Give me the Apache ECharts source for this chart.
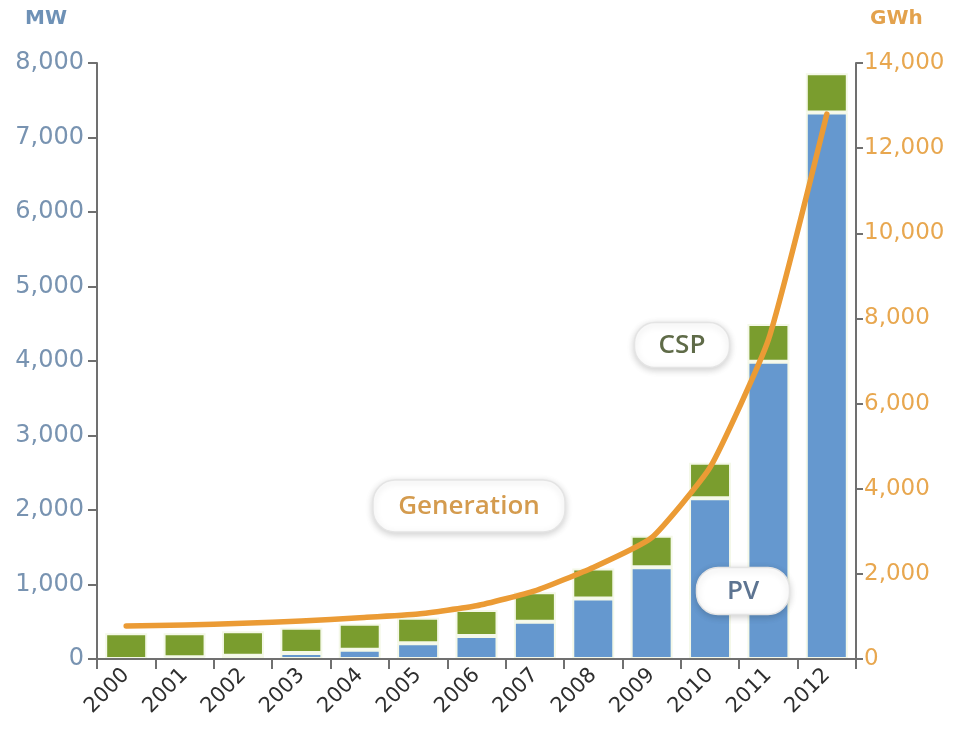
<!DOCTYPE html>
<html>
<head>
<meta charset="utf-8">
<script src="https://cdn.jsdelivr.net/npm/echarts@6/dist/echarts.min.js"></script>
<style>
  html, body { margin: 0; padding: 0; background: #ffffff; }
  #chart { width: 957px; height: 733px; }
</style>
</head>
<body>
<div id="chart"></div>
<script>
// ---- data ----
const years = ['2000','2001','2002','2003','2004','2005','2006','2007','2008','2009','2010','2011','2012'];
const pvMW  = [0, 25, 45, 80, 125, 210, 310, 500, 812, 1230, 2157, 3991, 7335];
const cspMW = [345, 320, 327, 341, 349, 344, 348, 395, 403, 425, 478, 504, 527];
const generationGWh = [775, 800, 838, 893, 970, 1057, 1250, 1600, 2150, 2850, 4500, 7500, 12800];
const mwTicks = { min: 0, max: 8000, interval: 1000 };
const gwhTicks = { min: 0, max: 14000, interval: 2000 };

const fmt = v => v.toLocaleString('en-US');
const axisGray = '#707070';

function labelBox(cx, cy, w, h, text, color) {
  return {
    type: 'group', x: cx, y: cy, z: 100,
    children: [
      { type: 'rect', z: 100,
        shape: { x: -w / 2, y: -h / 2, width: w, height: h, r: Math.min(22, h / 2 - 2) },
        style: { fill: '#ffffff', stroke: '#e4e4e4', lineWidth: 1.5,
                 shadowBlur: 7, shadowOffsetY: 2, shadowColor: 'rgba(0,0,0,0.18)' } },
      { type: 'text', z: 101,
        style: { text: text, x: 0, y: 1, align: 'center', verticalAlign: 'middle',
                 fill: color, font: '600 26px "Open Sans"' } }
    ]
  };
}

const chart = echarts.init(document.getElementById('chart'), null, { renderer: 'canvas' });
chart.setOption({
  backgroundColor: '#ffffff',
  animation: false,
  grid: { left: 97, right: 101, top: 63, bottom: 74, containLabel: false },
  xAxis: {
    type: 'category', data: years, z: 10,
    axisLine: { lineStyle: { color: axisGray, width: 2 } },
    axisTick: { show: true, length: 10, lineStyle: { color: axisGray, width: 2 } },
    axisLabel: { rotate: 45, fontSize: 21, color: '#2e2e2e', fontFamily: 'DejaVu Sans', margin: 13 }
  },
  yAxis: [
    {
      type: 'value', position: 'left', min: mwTicks.min, max: mwTicks.max, interval: mwTicks.interval,
      name: 'MW', nameLocation: 'end', nameGap: 34,
      nameTextStyle: { color: '#6e91b6', fontSize: 20, fontWeight: 'bold', fontFamily: 'DejaVu Sans',
                       align: 'right', padding: [0, 30, 0, 0] },
      axisLine: { show: true, lineStyle: { color: axisGray, width: 2 } },
      axisTick: { show: true, length: 9, lineStyle: { color: axisGray, width: 2 } },
      axisLabel: { formatter: fmt, color: '#7893b1', fontSize: 24, fontFamily: 'DejaVu Sans', margin: 13 },
      splitLine: { show: false }
    },
    {
      type: 'value', position: 'right', min: gwhTicks.min, max: gwhTicks.max, interval: gwhTicks.interval,
      name: 'GWh', nameLocation: 'end', nameGap: 34,
      nameTextStyle: { color: '#e3a24d', fontSize: 20, fontWeight: 'bold', fontFamily: 'DejaVu Sans',
                       align: 'left', padding: [0, 0, 0, 14] },
      axisLine: { show: true, lineStyle: { color: axisGray, width: 2 } },
      axisTick: { show: true, length: 7, lineStyle: { color: axisGray, width: 2 } },
      axisLabel: { formatter: fmt, color: '#e8a74f', fontSize: 23, fontFamily: 'DejaVu Sans', margin: 8 },
      splitLine: { show: false }
    }
  ],
  series: [
    {
      name: 'PV', type: 'bar', stack: 'mw', yAxisIndex: 0, barWidth: 42, data: pvMW,
      itemStyle: { color: '#6598cf', borderColor: '#f4f8e8', borderWidth: 2 }
    },
    {
      name: 'CSP', type: 'bar', stack: 'mw', yAxisIndex: 0, barWidth: 42, data: cspMW,
      itemStyle: { color: '#7a9d2e', borderColor: '#f4f8e8', borderWidth: 2 }
    },
    {
      name: 'Generation', type: 'line', yAxisIndex: 1, data: generationGWh, z: 5,
      showSymbol: false, smooth: 0.15,
      lineStyle: { color: '#eb9b35', width: 5.5, cap: 'round', join: 'round' }
    }
  ],
  graphic: [
    labelBox(469, 506, 192, 52, 'Generation', '#d49b4e'),
    labelBox(682, 345, 95, 45, 'CSP', '#5f6b48'),
    labelBox(743, 591, 93, 47, 'PV', '#5d7491')
  ]
});
</script>
</body>
</html>
